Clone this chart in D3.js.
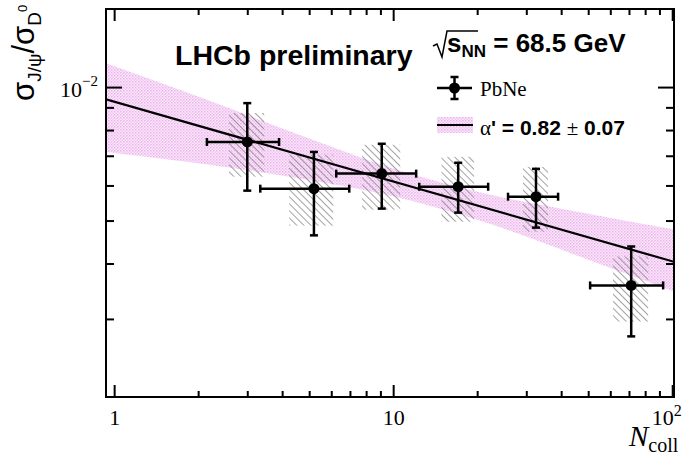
<!DOCTYPE html>
<html>
<head>
<meta charset="utf-8">
<script src="https://cdn.jsdelivr.net/npm/d3@7"></script>
<style>
  html, body { margin: 0; padding: 0; background: #fff; }
  svg { display: block; }
</style>
</head>
<body>
<svg id="chart" width="687" height="456"></svg>
<script>
// PbNe measurement: sigma(J/psi)/sigma(D0) versus number of binary collisions
const nColl   = [3.0, 5.2, 9.1, 17.1, 32.5, 71.3];
const nLo     = [2.15, 3.34, 6.25, 12.4, 25.8, 50.8];
const nHi     = [3.9, 6.96, 12.09, 21.9, 39.0, 92.8];
const ratio   = [0.00752, 0.00590, 0.00638, 0.00596, 0.00566, 0.00357];
const statLo  = [0.00584, 0.00463, 0.00532, 0.00521, 0.00482, 0.00274];
const statHi  = [0.00920, 0.00714, 0.00745, 0.00675, 0.00654, 0.00437];
const systLo  = [0.00628, 0.00487, 0.00529, 0.00497, 0.00472, 0.00296];
const systHi  = [0.00874, 0.00704, 0.00741, 0.00696, 0.00661, 0.00415];
const boxLo   = [2.58, 4.24, 7.74, 14.9, 29.2, 61.4];
const boxHi   = [3.45, 6.10, 10.6, 19.5, 35.9, 82.0];

// Power-law fit  sigma ratio = norm * N^(alpha' - 1)
const alphaPrime = 0.82;
const alphaErr = 0.07;
const fitNorm = 0.00927;
// Fit uncertainty band
const bandN  = [0.935, 2, 5, 10, 20, 50, 101.5];
const bandHi = [0.01132, 0.00952, 0.00766, 0.00655, 0.00581, 0.00518, 0.00477];
const bandLo = [0.00714, 0.00673, 0.00617, 0.00567, 0.00502, 0.00408, 0.00346];

// Axis ticks
const xMajor = [1, 10, 100];
const xMinor = [2, 3, 4, 5, 6, 7, 8, 9, 20, 30, 40, 50, 60, 70, 80, 90];
const yMajor = [0.01];
const yMinor = [0.003, 0.004, 0.005, 0.006, 0.007, 0.008, 0.009];

const svg = d3.select("#chart");
const L = 106, R = 674, T = 9, B = 397;

const x = d3.scaleLog().domain([0.935, 101.5]).range([L, R]);
const y = d3.scaleLog().domain([0.002, 0.015]).range([B, T]);

const defs = svg.append("defs");
defs.append("clipPath").attr("id", "frame")
  .append("rect").attr("x", L).attr("y", T).attr("width", R - L).attr("height", B - T);

// dotted pink fill for the fit band
const dots = defs.append("pattern").attr("id", "pinkDots")
  .attr("patternUnits", "userSpaceOnUse").attr("width", 3).attr("height", 3);
dots.append("rect").attr("width", 3).attr("height", 3).attr("fill", "#fbe8fb");
dots.append("rect").attr("width", 1.5).attr("height", 1.5).attr("fill", "#ebb3eb");
dots.append("rect").attr("x", 1.5).attr("y", 1.5).attr("width", 1.5).attr("height", 1.5).attr("fill", "#f1c8f1");

// diagonal hatching (\\\) for systematic boxes
const hatch = defs.append("pattern").attr("id", "hatch")
  .attr("patternUnits", "userSpaceOnUse").attr("width", 5).attr("height", 5)
  .attr("patternTransform", "rotate(-45)");
hatch.append("line").attr("x1", 0).attr("y1", 0).attr("x2", 0).attr("y2", 5)
  .attr("stroke", "#7a7a7a").attr("stroke-width", 1.4);

const plot = svg.append("g").attr("clip-path", "url(#frame)");

// fit band
const bandData = bandN.map((n, i) => ({ n, lo: bandLo[i], hi: bandHi[i] }));
plot.append("path")
  .datum(bandData)
  .attr("fill", "url(#pinkDots)")
  .attr("d", d3.area()
    .x(d => x(d.n)).y0(d => y(d.lo)).y1(d => y(d.hi))
    .curve(d3.curveMonotoneX));

// systematic boxes
plot.selectAll("rect.syst")
  .data(nColl.map((n, i) => i))
  .join("rect").attr("class", "syst")
  .attr("x", i => x(boxLo[i]))
  .attr("width", i => x(boxHi[i]) - x(boxLo[i]))
  .attr("y", i => y(systHi[i]))
  .attr("height", i => y(systLo[i]) - y(systHi[i]))
  .attr("fill", "url(#hatch)");

// fit line
const fitPts = x.domain().map(n => ({ n, v: fitNorm * Math.pow(n, alphaPrime - 1) }));
plot.append("path")
  .datum(fitPts)
  .attr("fill", "none").attr("stroke", "#000").attr("stroke-width", 2.2)
  .attr("d", d3.line().x(d => x(d.n)).y(d => y(d.v)));

// error bars with end caps
const eb = svg.append("g").attr("stroke", "#000").attr("stroke-width", 2.5).attr("fill", "none");
const cap = 4;
nColl.forEach((n, i) => {
  const cx = x(n), cy = y(ratio[i]);
  const x0 = x(nLo[i]), x1 = x(nHi[i]);
  const y0 = y(statHi[i]), y1 = y(statLo[i]);
  eb.append("line").attr("x1", x0).attr("x2", x1).attr("y1", cy).attr("y2", cy);
  eb.append("line").attr("x1", cx).attr("x2", cx).attr("y1", y0).attr("y2", y1);
  eb.append("line").attr("x1", x0).attr("x2", x0).attr("y1", cy - cap).attr("y2", cy + cap);
  eb.append("line").attr("x1", x1).attr("x2", x1).attr("y1", cy - cap).attr("y2", cy + cap);
  eb.append("line").attr("x1", cx - cap).attr("x2", cx + cap).attr("y1", y0).attr("y2", y0);
  eb.append("line").attr("x1", cx - cap).attr("x2", cx + cap).attr("y1", y1).attr("y2", y1);
});
svg.append("g").selectAll("circle")
  .data(nColl.map((n, i) => i))
  .join("circle")
  .attr("cx", i => x(nColl[i])).attr("cy", i => y(ratio[i])).attr("r", 5.5)
  .attr("fill", "#000");

// axes (ticks inward on all four sides)
function styleAxis(g) {
  g.select(".domain").remove();
  g.selectAll(".tick line").attr("stroke", "#000").attr("stroke-width", 2);
}
const serif = "'Liberation Serif', 'Times New Roman', serif";
const sans = "'Liberation Sans', Arial, Helvetica, sans-serif";

svg.append("g").attr("transform", `translate(0,${B})`)
  .call(d3.axisBottom(x).tickValues(xMinor).tickSize(-6).tickFormat("")).call(styleAxis);
const xAx = svg.append("g").attr("transform", `translate(0,${B})`)
  .call(d3.axisBottom(x).tickValues(xMajor).tickSize(-12).tickPadding(12).tickFormat(""))
  .call(styleAxis);
xAx.selectAll(".tick text").each(function (d) {
  const t = d3.select(this)
    .attr("font-family", serif).attr("font-size", 22).attr("fill", "#000")
    .attr("dy", "0.71em");
  if (d === 100) {
    t.attr("text-anchor", "middle").attr("dx", -6);
    t.append("tspan").text("10");
    t.append("tspan").attr("font-size", 16).attr("dy", "-0.55em").text("2");
  } else {
    t.text(String(d));
  }
});
svg.append("g").attr("transform", `translate(0,${T})`)
  .call(d3.axisTop(x).tickValues(xMinor).tickSize(-6).tickFormat("")).call(styleAxis);
svg.append("g").attr("transform", `translate(0,${T})`)
  .call(d3.axisTop(x).tickValues(xMajor).tickSize(-12).tickFormat("")).call(styleAxis);

svg.append("g").attr("transform", `translate(${L},0)`)
  .call(d3.axisLeft(y).tickValues(yMinor).tickSize(-8).tickFormat("")).call(styleAxis);
const yAx = svg.append("g").attr("transform", `translate(${L},0)`)
  .call(d3.axisLeft(y).tickValues(yMajor).tickSize(-16).tickPadding(8).tickFormat(""))
  .call(styleAxis);
yAx.selectAll(".tick text").each(function () {
  const t = d3.select(this)
    .attr("font-family", serif).attr("font-size", 22).attr("fill", "#000")
    .attr("dy", "0.42em").attr("text-anchor", "end");
  t.append("tspan").text("10");
  t.append("tspan").attr("font-size", 15).attr("dy", "-0.75em").text("\u22122");
});
svg.append("g").attr("transform", `translate(${R},0)`)
  .call(d3.axisRight(y).tickValues(yMinor).tickSize(-8).tickFormat("")).call(styleAxis);
svg.append("g").attr("transform", `translate(${R},0)`)
  .call(d3.axisRight(y).tickValues(yMajor).tickSize(-16).tickFormat("")).call(styleAxis);

// frame
svg.append("rect").attr("x", L).attr("y", T).attr("width", R - L).attr("height", B - T)
  .attr("fill", "none").attr("stroke", "#000").attr("stroke-width", 2);

// axis titles
const yTitle = svg.append("text")
  .attr("transform", "translate(34,101) rotate(-90)")
  .attr("font-family", sans).attr("font-size", 31).attr("fill", "#000");
yTitle.append("tspan").text("σ");
yTitle.append("tspan").attr("font-size", 19).attr("dy", 7).text("J/ψ");
yTitle.append("tspan").attr("font-size", 31).attr("dy", -7).text("/σ");
yTitle.append("tspan").attr("font-size", 19).attr("dy", 7).text("D");
yTitle.append("tspan").attr("font-size", 13).attr("dy", -14).text("0");

const xTitle = svg.append("text")
  .attr("x", 629).attr("y", 446)
  .attr("font-family", serif).attr("fill", "#000");
xTitle.append("tspan").attr("font-size", 29).attr("font-style", "italic").text("N");
xTitle.append("tspan").attr("font-size", 20).attr("dy", 6).text("coll");

// experiment label
svg.append("text").attr("x", 175).attr("y", 65)
  .attr("font-family", sans).attr("font-weight", "bold").attr("font-size", 28.5)
  .attr("fill", "#000").text("LHCb preliminary");

// energy label with radical sign
svg.append("path")
  .attr("d", "M433,46 L437,44 L442,57 L447,31 L478,31")
  .attr("fill", "none").attr("stroke", "#000").attr("stroke-width", 1.5);
const eLab = svg.append("text").attr("x", 447).attr("y", 52)
  .attr("font-family", sans).attr("font-weight", "bold").attr("fill", "#000");
eLab.append("tspan").attr("font-size", 26).text("s");
eLab.append("tspan").attr("font-size", 17).attr("dy", 5).text("NN");
eLab.append("tspan").attr("font-size", 26).attr("dy", -5).text(" = 68.5 GeV");

// legend
const lg = svg.append("g");
const lgY = 88;
lg.append("line").attr("x1", 437).attr("x2", 472).attr("y1", lgY).attr("y2", lgY)
  .attr("stroke", "#000").attr("stroke-width", 2.5);
lg.append("line").attr("x1", 454.5).attr("x2", 454.5).attr("y1", lgY - 11).attr("y2", lgY + 11)
  .attr("stroke", "#000").attr("stroke-width", 2.5);
lg.append("line").attr("x1", 450.5).attr("x2", 458.5).attr("y1", lgY - 11).attr("y2", lgY - 11)
  .attr("stroke", "#000").attr("stroke-width", 2.5);
lg.append("line").attr("x1", 450.5).attr("x2", 458.5).attr("y1", lgY + 11).attr("y2", lgY + 11)
  .attr("stroke", "#000").attr("stroke-width", 2.5);
lg.append("circle").attr("cx", 454.5).attr("cy", lgY).attr("r", 5.5).attr("fill", "#000");
lg.append("text").attr("x", 480).attr("y", lgY + 8)
  .attr("font-family", serif).attr("font-size", 21).attr("fill", "#000").text("PbNe");

lg.append("rect").attr("x", 437).attr("y", 117).attr("width", 36).attr("height", 16)
  .attr("fill", "url(#pinkDots)");
lg.append("line").attr("x1", 437).attr("x2", 473).attr("y1", 125).attr("y2", 125)
  .attr("stroke", "#000").attr("stroke-width", 2);
const aLab = lg.append("text").attr("x", 480).attr("y", 135)
  .attr("font-family", sans).attr("font-weight", "bold").attr("font-size", 21).attr("fill", "#000");
aLab.append("tspan").attr("font-family", serif).attr("font-weight", "normal").text("α");
aLab.append("tspan").text(`' = ${alphaPrime.toFixed(2)} `);
aLab.append("tspan").attr("font-family", serif).attr("font-weight", "normal").text("±");
aLab.append("tspan").text(` ${alphaErr.toFixed(2)}`);
</script>
</body>
</html>
